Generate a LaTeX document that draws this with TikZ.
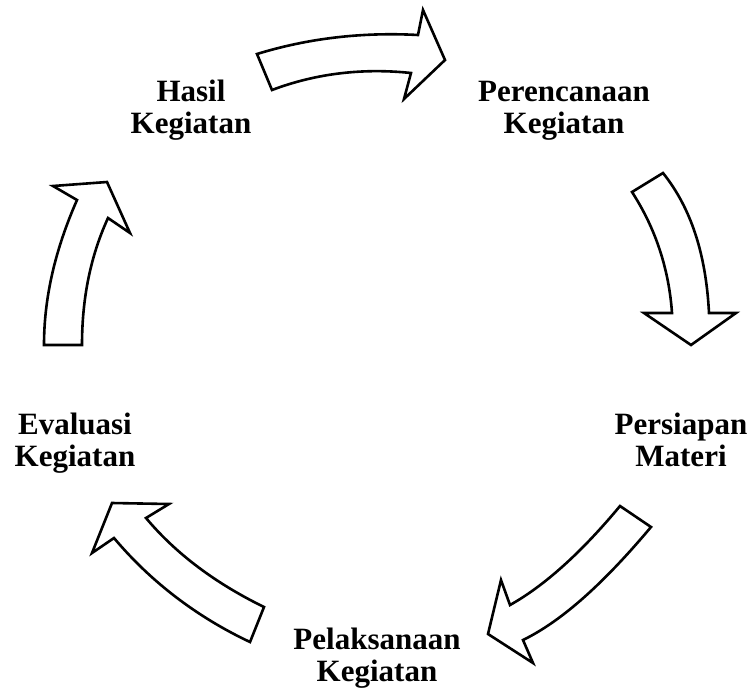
\documentclass[tikz,border=0pt]{standalone}
\usepackage{fontspec}
\setmainfont{Liberation Serif}

\begin{document}
\begin{tikzpicture}[x=1pt,y=-1pt]
		\tikzset{lbl/.style={align=center,anchor=base,inner sep=0pt,font=\bfseries\fontsize{31}{31.5}\selectfont}};
		\tikzset{blok/.style={draw,line width=2.6pt,line join=miter,fill=white}};
		
		\useasboundingbox (0,0) rectangle (750,689);
		
		% labels
		\node (hasil) at (191,133) [lbl] {Hasil\\Kegiatan};
		\node (renc) at (564,133) [lbl] {Perencanaan\\Kegiatan};
		\node (siap) at (681,466) [lbl] {Persiapan\\Materi};
		\node (laks) at (377,681) [lbl] {Pelaksanaan\\Kegiatan};
		\node (eval) at (75,466) [lbl] {Evaluasi\\Kegiatan};
		
		% block arrows
		\draw [blok] (257,54) .. controls (309,38) and (363,32) .. (418,35) -- (423,10) -- (445,60) -- (404,99) -- (411,73) .. controls (364,68) and (317,73) .. (272,90) -- cycle;
		\draw [blok] (632,192) .. controls (656,229) and (669,270) .. (672,313) -- (644,313) -- (691,345) -- (736,313) -- (709,313) .. controls (706,254) and (691,208) .. (663,173) -- cycle;
		\draw [blok] (620,506) .. controls (581,553) and (544,586) .. (510,605) -- (501,580) -- (488,634) -- (533,663) -- (523,640) .. controls (562,621) and (604,583) .. (651,527) -- cycle;
		\draw [blok] (264,607) .. controls (217,584) and (177,555) .. (146,518) -- (169,504) -- (112,503) -- (92,553) -- (114,538) .. controls (151,582) and (197,617) .. (250,642) -- cycle;
		\draw [blok] (44,345) .. controls (44,298) and (55,250) .. (77,200) -- (53,186) -- (107,182) -- (130,233) -- (108,218) .. controls (91,255) and (82,297) .. (82,345) -- cycle;
\end{tikzpicture}
\end{document}
